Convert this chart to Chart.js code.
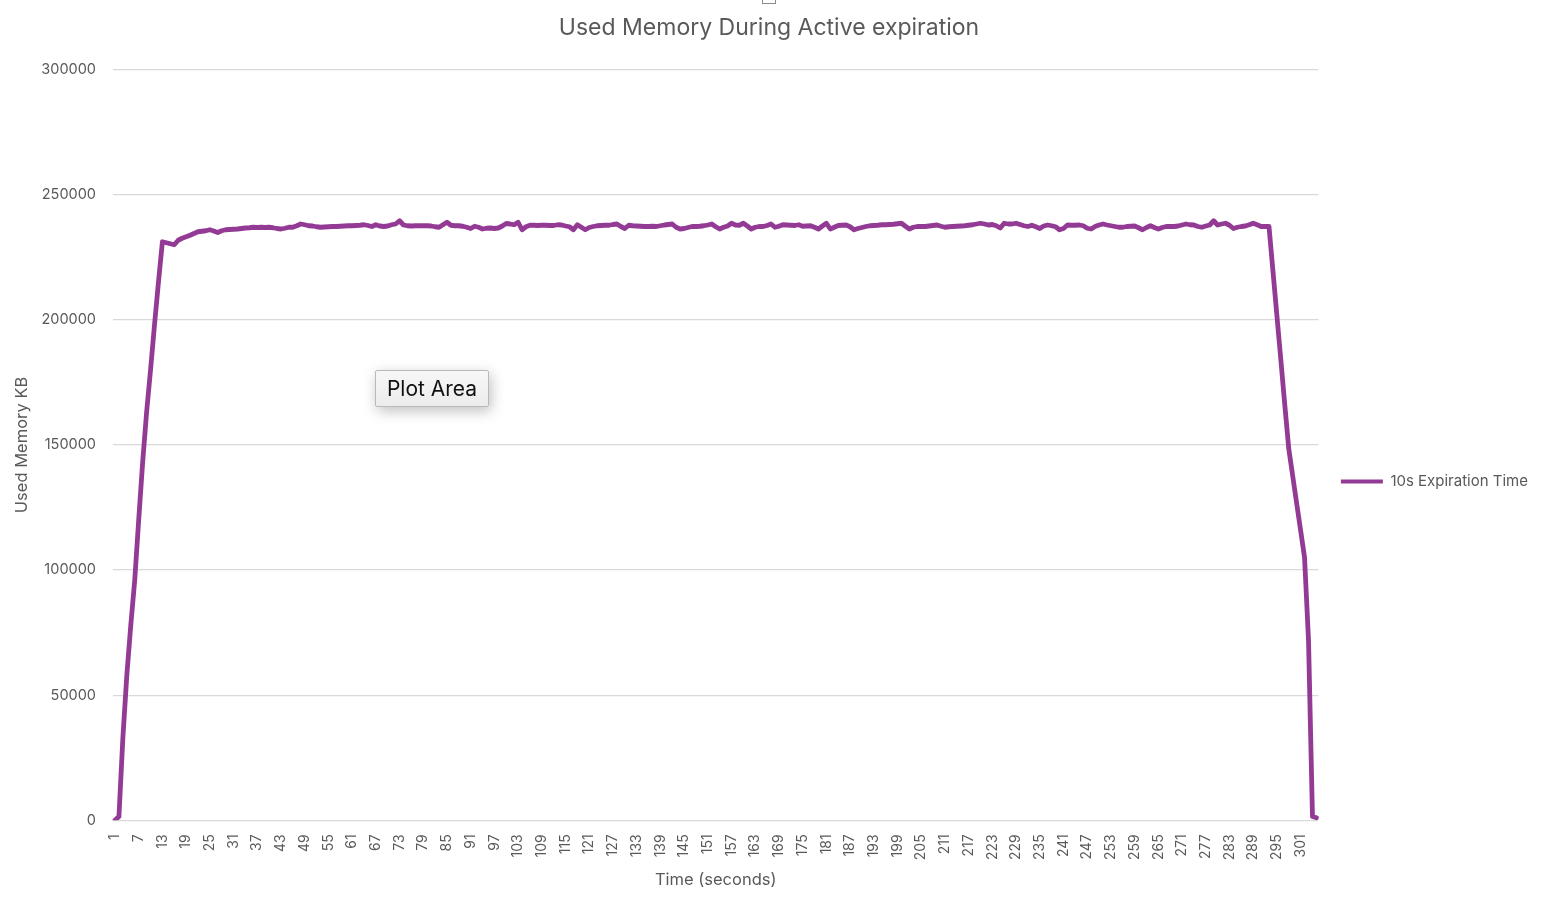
<!DOCTYPE html>
<html>
<head>
<meta charset="utf-8">
<title>Used Memory During Active expiration</title>
<script src="https://cdn.jsdelivr.net/npm/chart.js@4.4.1/dist/chart.umd.min.js"></script>
<style>
  html, body { margin: 0; padding: 0; background: #fff; }
  #wrap { position: relative; width: 1546px; height: 906px; }
  #hint {
    position: absolute; left: 375px; top: 370px; width: 112px; height: 35px;
    border: 1px solid #b9b9b9; border-radius: 2px;
    background: linear-gradient(#f7f7f7, #ececec);
    box-shadow: 2px 4px 14px rgba(0,0,0,0.25);
    font: 21px "Inter", sans-serif; color: #111;
    text-align: center; line-height: 35px;
  }
  #handle {
    position: absolute; left: 762px; top: -10px; width: 12px; height: 12px;
    border: 1px solid #8a8a8a; background: #fff;
  }
</style>
</head>
<body>
<div id="wrap">
  <canvas id="memChart"></canvas>
  <div id="handle"></div>
  <div id="hint">Plot Area</div>
</div>
<script>
// used memory (KB) sampled once per second
var memoryKB = [
  0, 1500, 33000, 58000, 78000, 96000, 120000, 143000, 163000, 180000,
  198000, 215000, 231200, 230800, 230400, 230000, 231800, 232600, 233200, 233800,
  234500, 235200, 235400, 235600, 236000, 235500, 234900, 235600, 236000, 236100,
  236200, 236300, 236500, 236700, 236800, 237000, 236900, 237000, 236900, 237000,
  236800, 236500, 236300, 236600, 237000, 237000, 237600, 238300, 238000, 237600,
  237500, 237200, 237000, 237100, 237200, 237300, 237300, 237400, 237500, 237600,
  237600, 237700, 237800, 238000, 237700, 237300, 238000, 237500, 237300, 237500,
  238000, 238300, 239600, 237900, 237600, 237500, 237600, 237600, 237600, 237600,
  237500, 237200, 237000, 238000, 239000, 237800, 237600, 237600, 237400, 237000,
  236500, 237400, 237000, 236300, 236600, 236700, 236500, 236700, 237500, 238500,
  238300, 238000, 239000, 236000, 237200, 237800, 237800, 237700, 237800, 237800,
  237700, 237700, 238000, 237900, 237500, 237200, 236000, 238000, 237000, 236000,
  236900, 237300, 237600, 237700, 237800, 237800, 238100, 238300, 237300, 236500,
  237800, 237600, 237500, 237400, 237300, 237300, 237400, 237300, 237600, 237900,
  238100, 238300, 237000, 236300, 236500, 236900, 237300, 237300, 237400, 237600,
  237900, 238300, 237200, 236300, 237000, 237500, 238600, 237900, 237800, 238600,
  237500, 236300, 237000, 237300, 237300, 237700, 238300, 237000, 237400, 238000,
  237900, 237800, 237700, 238000, 237400, 237500, 237600, 237000, 236300, 237500,
  238600, 236300, 237000, 237700, 237800, 237900, 237200, 236000, 236500, 236900,
  237300, 237600, 237700, 237800, 238000, 238000, 238100, 238200, 238400, 238600,
  237400, 236300, 237000, 237300, 237300, 237300, 237500, 237700, 237900, 237400,
  237000, 237200, 237300, 237400, 237500, 237600, 237800, 238000, 238300, 238600,
  238300, 237900, 238100, 237600, 236700, 238600, 238300, 238300, 238600, 238100,
  237600, 237300, 237800, 237200, 236500, 237500, 237900, 237600, 237200, 236000,
  236500, 237900, 237800, 237800, 237900, 237600, 236600, 236300, 237300, 237900,
  238300, 237900, 237600, 237300, 237000, 237000, 237300, 237400, 237500, 236800,
  236000, 236900, 237600, 236900, 236300, 236900, 237300, 237300, 237300, 237500,
  237900, 238300, 238000, 237900, 237300, 237000, 237500, 237900, 239600, 237900,
  238300, 238600, 237800, 236500, 237000, 237300, 237500, 238000, 238600, 238000,
  237300, 237300, 237300, 219500, 201700, 184000, 166000, 148500, 137600, 126700,
  115900, 105000, 72000, 1500, 1000
];

// x categories are the seconds 1..N
var seconds = memoryKB.map(function (v, i) { return i + 1; });
var labelEvery = 6;
var yTicks = [0, 50000, 100000, 150000, 200000, 250000, 300000];

var grey = '#595959';
var purple = '#933a94';
Chart.defaults.font.family = 'Inter, "Open Sans", sans-serif';

var ctx = document.getElementById('memChart').getContext('2d');
var memChart = new Chart(ctx, {
    type: 'line',
    data: {
        labels: seconds,
        datasets: [{
            label: '10s Expiration Time',
            data: memoryKB,
            borderColor: purple,
            backgroundColor: purple,
            borderWidth: 4.8,
            pointRadius: 0,
            pointHoverRadius: 0,
            tension: 0,
            borderJoinStyle: 'round',
            borderCapStyle: 'round'
        }]
    },
    options: {
        responsive: true,
        maintainAspectRatio: false,
        animation: false,
        layout: {
            padding: { left: 0, right: 8, top: 0, bottom: 10 }
        },
        plugins: {
            title: {
                display: true,
                text: 'Used Memory During Active expiration',
                color: grey,
                font: { size: 23, weight: 'normal' },
                padding: { top: 14, bottom: 28 }
            },
            legend: {
                position: 'right',
                align: 'center',
                // empty title only nudges the entry down to the middle of the chart
                title: { display: true, text: '', font: { size: 10 }, padding: { top: 55, bottom: 0 } },
                labels: {
                    boxWidth: 42,
                    boxHeight: 4,
                    padding: 10,
                    color: grey,
                    font: { size: 15 },
                    generateLabels: function (chart) {
                        var items = Chart.defaults.plugins.legend.labels.generateLabels(chart);
                        items.forEach(function (it) { it.lineWidth = 0; });
                        return items;
                    }
                }
            },
            tooltip: { enabled: false }
        },
        scales: {
            x: {
                offset: true,
                grid: { display: false },
                border: { display: false },
                ticks: {
                    autoSkip: false,
                    maxRotation: 90,
                    minRotation: 90,
                    padding: 6,
                    color: grey,
                    font: { size: 14 },
                    callback: function (val, idx) {
                        return idx % labelEvery === 0 ? String(this.getLabelForValue(val)) : '';
                    }
                },
                title: {
                    display: true,
                    text: 'Time (seconds)',
                    color: grey,
                    font: { size: 16.5 },
                    padding: { top: 4, bottom: 6 }
                }
            },
            y: {
                min: yTicks[0],
                max: yTicks[yTicks.length - 1],
                grid: { color: '#d9d9d9', lineWidth: 1.3, drawTicks: false },
                border: { display: false },
                afterBuildTicks: function (axis) {
                    axis.ticks = yTicks.map(function (v) { return { value: v }; });
                },
                afterFit: function (axis) { axis.width = 113; },
                ticks: {
                    padding: 17,
                    color: grey,
                    font: { size: 14.5 },
                    callback: function (v) { return String(v); }
                },
                title: {
                    display: true,
                    text: 'Used Memory KB',
                    color: grey,
                    font: { size: 16.5 },
                    padding: { top: 12, bottom: 0 }
                }
            },
            // blank axis: keeps the gap between plot area and legend
            gap: {
                type: 'linear',
                position: 'right',
                display: true,
                grid: { display: false },
                border: { display: false },
                ticks: { display: false },
                afterFit: function (axis) { axis.width = 12.5; }
            }
        }
    }
});
</script>
</body>
</html>
